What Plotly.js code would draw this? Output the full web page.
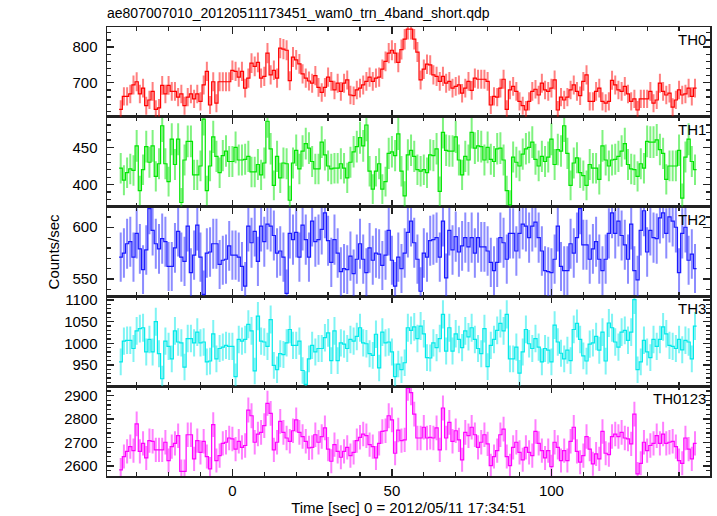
<!DOCTYPE html>
<html><head><meta charset="utf-8">
<script src="https://cdn.plot.ly/plotly-3.0.1.min.js"></script>
<style>html,body{margin:0;padding:0;background:#fff}</style>
</head><body>
<div id="chart" style="width:717px;height:516px"></div>
<script>
// bin centres, seconds (1 s bins)
const timeSec = [
-35,-34,-33,-32,-31,-30,-29,-28,-27,-26,
-25,-24,-23,-22,-21,-20,-19,-18,-17,-16,
-15,-14,-13,-12,-11,-10,-9,-8,-7,-6,
-5,-4,-3,-2,-1,0,1,2,3,4,
5,6,7,8,9,10,11,12,13,14,
15,16,17,18,19,20,21,22,23,24,
25,26,27,28,29,30,31,32,33,34,
35,36,37,38,39,40,41,42,43,44,
45,46,47,48,49,50,51,52,53,54,
55,56,57,58,59,60,61,62,63,64,
65,66,67,68,69,70,71,72,73,74,
75,76,77,78,79,80,81,82,83,84,
85,86,87,88,89,90,91,92,93,94,
95,96,97,98,99,100,101,102,103,104,
105,106,107,108,109,110,111,112,113,114,
115,116,117,118,119,120,121,122,123,124,
125,126,127,128,129,130,131,132,133,134,
135,136,137,138,139,140,141,142,143,144,
145];

const th0 = [
626,662,662,669,694,703,669,685,636,652,
676,626,630,693,669,693,676,676,660,669,
636,660,669,655,669,648,694,732,638,703,
643,703,703,703,703,735,732,716,732,685,
713,755,746,757,713,718,783,722,735,713,
797,794,791,706,772,764,753,725,713,705,
699,720,687,673,687,716,704,680,699,676,
699,708,666,664,680,685,694,704,716,704,
713,716,738,760,783,791,783,757,793,822,
850,850,822,786,708,738,752,750,722,718,
704,718,699,704,685,690,694,671,685,704,
679,713,710,710,710,704,638,662,660,685,
710,626,680,690,676,648,636,624,648,676,
682,666,699,680,676,685,708,624,660,652,
660,680,694,676,664,704,722,648,648,676,
685,648,643,648,707,694,680,676,690,669,
648,655,624,655,655,655,676,643,652,699,
676,666,671,632,652,680,666,669,685,662,
685];

const th1 = [
422,406,416,421,419,452,392,420,451,430,
452,411,428,479,428,404,461,427,461,376,
433,458,458,413,413,425,488,392,425,464,
438,416,439,445,431,431,450,433,433,434,
438,417,417,427,413,429,485,448,399,438,
409,429,428,379,429,446,421,445,455,449,
431,421,421,457,440,425,421,422,422,428,
422,409,430,444,451,463,452,480,418,394,
418,428,394,404,442,444,439,468,418,385,
440,446,438,420,418,420,416,440,439,448,
391,470,446,445,445,464,433,413,438,433,
470,449,452,451,433,450,434,431,448,449,
433,392,373,437,430,425,441,448,450,457,
434,425,438,431,437,461,427,447,445,479,
442,399,429,436,416,412,399,427,422,422,
407,452,433,425,433,434,438,445,455,427,
421,420,411,428,422,458,457,457,460,447,
442,407,425,425,425,446,382,437,461,431,
420];

const th2 = [
571,575,584,586,571,594,579,559,578,618,
597,584,579,589,586,562,562,580,596,571,
567,601,556,573,602,571,535,575,576,584,
584,564,568,569,582,573,573,571,562,543,
601,585,596,567,601,586,603,601,592,575,
577,571,536,594,588,595,571,602,588,571,
606,586,588,598,614,587,566,588,575,557,
560,559,572,555,569,584,569,556,580,568,
575,574,563,573,597,568,543,571,560,575,
595,606,585,569,538,575,571,587,588,590,
571,606,551,597,578,591,576,582,590,581,
590,575,590,581,581,577,566,558,566,590,
585,569,594,594,577,594,603,601,590,601,
605,590,577,558,557,556,569,601,562,558,
558,584,575,590,618,583,583,569,579,586,
569,558,569,594,614,594,606,592,583,569,
603,558,549,597,616,576,597,590,589,609,
614,594,610,606,600,556,594,600,568,574,
560];

const th3 = [
957,1005,1007,1007,988,1029,1034,1036,980,1009,
980,1050,976,918,1005,993,964,1029,1003,1001,
945,1011,1011,1001,1026,1001,1003,957,959,1022,
964,988,991,995,993,993,923,1009,1005,1009,
1044,1029,936,1063,1005,1003,993,1055,949,939,
976,974,1001,1032,995,995,1005,937,905,964,
995,980,988,988,1013,1024,960,1029,960,1001,
998,988,1009,1005,1016,1036,1001,999,976,972,
1021,943,1026,1001,1003,980,923,952,939,955,
1036,1030,1038,1011,1040,1022,967,966,1001,990,
1011,1067,982,1036,982,1022,1009,990,1029,1015,
1036,1009,988,976,1034,946,995,1009,1030,1046,
1029,1067,964,964,991,931,980,1032,999,988,
1011,991,957,988,984,957,1042,1003,977,964,
984,960,1032,1046,1009,971,959,998,1001,1016,
984,1026,959,1047,1036,1003,991,1026,1030,1007,
1026,1101,939,957,1007,980,967,1009,993,1009,
1038,1022,995,993,988,1009,985,1007,1003,964,
1040];

const th0123 = [
2583,2640,2662,2682,2665,2779,2662,2696,2634,2708,
2705,2668,2668,2668,2701,2623,2682,2696,2729,2577,
2577,2733,2733,2630,2708,2658,2705,2640,2587,2776,
2623,2644,2696,2701,2719,2715,2672,2705,2679,2687,
2838,2814,2701,2736,2743,2772,2867,2824,2668,2701,
2790,2743,2719,2705,2750,2796,2743,2725,2705,2677,
2679,2733,2701,2725,2762,2672,2620,2691,2662,2637,
2662,2679,2644,2658,2708,2722,2736,2729,2691,2682,
2634,2696,2747,2750,2814,2796,2654,2753,2708,2711,
2932,2913,2821,2719,2719,2765,2719,2722,2719,2762,
2668,2847,2719,2786,2705,2750,2711,2626,2743,2729,
2765,2733,2679,2701,2733,2694,2601,2640,2665,2733,
2757,2640,2601,2679,2701,2658,2626,2679,2658,2644,
2747,2696,2665,2634,2665,2597,2701,2679,2623,2665,
2623,2705,2765,2662,2616,2644,2725,2672,2609,2651,
2630,2747,2654,2648,2725,2736,2725,2743,2719,2715,
2694,2821,2566,2611,2701,2665,2687,2696,2729,2696,
2736,2696,2701,2705,2682,2623,2611,2719,2672,2630,
2696];

const panelNames = ['TH0','TH1','TH2','TH3','TH0123'];
const panelSeries = [th0, th1, th2, th3, th0123];

const styles = [
  {line:'#ff0000', err:'rgba(255,0,0,0.5)',   range:[605,856],   dtick:100, minor:20},
  {line:'#00e600', err:'rgba(0,230,0,0.5)',   range:[370.5,491], dtick:50,  minor:10},
  {line:'#1a1aff', err:'rgba(26,26,255,0.5)', range:[533,620],   dtick:50,  minor:10},
  {line:'#00eaea', err:'rgba(0,234,234,0.5)', range:[900.7,1108.6], dtick:50, minor:10},
  {line:'#ff00ff', err:'rgba(255,0,255,0.5)', range:[2557,2940], dtick:100, minor:20}
];

const halfBin = 0.5;
const edges = timeSec.map(t => t - halfBin).concat([timeSec[timeSec.length-1] + halfBin]);

const axisColor = '#222';
const traces = [];
const layout = {
  width: 717, height: 516,
  margin: {l:107, r:7, t:27, b:40},
  paper_bgcolor: '#fff', plot_bgcolor: '#fff',
  showlegend: false,
  font: {family: 'Liberation Sans, Arial, sans-serif', color: '#000', size: 15},
  title: {
    text: 'ae807007010_20120511173451_wam0_trn_4band_short.qdp',
    xref: 'paper', x: 0, xanchor: 'left',
    yref: 'container', y: 0.975, yanchor: 'middle',
    font: {size: 14, family: 'Liberation Sans, Arial, sans-serif', color:'#000'}
  },
  annotations: []
};

panelNames.forEach((name, i) => {
  const n = 5 - i;
  const xa = n === 1 ? 'x' : 'x' + n;
  const ya = n === 1 ? 'y' : 'y' + n;
  const st = styles[i];
  const vals = panelSeries[i];
  traces.push({
    type: 'scatter', mode: 'lines', x: edges, y: vals.concat([vals[vals.length-1]]),
    xaxis: xa, yaxis: ya, line: {shape: 'hv', color: st.line, width: 1.2},
    hoverinfo: 'skip'
  });
  traces.push({
    type: 'scatter', mode: 'markers', x: timeSec, y: vals,
    xaxis: xa, yaxis: ya, marker: {size: 1, color: 'rgba(0,0,0,0)'},
    error_y: {type: 'sqrt', visible: true, color: st.err, thickness: 2, width: 0},
    hoverinfo: 'skip'
  });
  const dom = [(n-1)*0.2, n*0.2];
  const xKey = n === 1 ? 'xaxis' : 'xaxis' + n;
  const yKey = n === 1 ? 'yaxis' : 'yaxis' + n;
  layout[xKey] = {
    anchor: ya, domain: [0,1], range: [-39.3, 149.7],
    tick0: 0, dtick: 50, ticks: 'inside', ticklen: 7, tickwidth: 1.3, tickcolor: axisColor,
    minor: {dtick: 10, ticks: 'inside', ticklen: 4, tickwidth: 1.3, tickcolor: axisColor},
    showline: true, linecolor: axisColor, linewidth: 1.5, mirror: 'ticks',
    showgrid: false, zeroline: false,
    showticklabels: n === 1,
    tickfont: {size: 15}
  };
  if (n !== 1) layout[xKey].matches = 'x';
  if (n === 1) layout[xKey].title = {text: 'Time [sec] 0 = 2012/05/11 17:34:51', font: {size: 15}, standoff: 5};
  layout[yKey] = {
    anchor: xa, domain: dom, range: st.range,
    tick0: 0, dtick: st.dtick, ticks: 'inside', ticklen: 7, tickwidth: 1.3, tickcolor: axisColor,
    minor: {dtick: st.minor, ticks: 'inside', ticklen: 4, tickwidth: 1.3, tickcolor: axisColor},
    showline: true, linecolor: axisColor, linewidth: 1.5, mirror: 'ticks',
    showgrid: false, zeroline: false, tickfont: {size: 15},
    ticklabelstandoff: 5
  };
  layout.annotations.push({
    text: name, xref: 'paper', yref: 'paper', x: 1, y: dom[1],
    xanchor: 'right', yanchor: 'top', xshift: -2, yshift: -2, showarrow: false,
    font: {size: 15, color: '#000'}
  });
});

layout.annotations.push({
  text: 'Counts/sec', xref: 'paper', yref: 'paper', x: -0.088, y: 0.5,
  xanchor: 'center', yanchor: 'middle', textangle: -90, showarrow: false,
  font: {size: 15, color: '#000'}
});

Plotly.newPlot('chart', traces, layout, {staticPlot: true, displayModeBar: false});
</script>
</body></html>
